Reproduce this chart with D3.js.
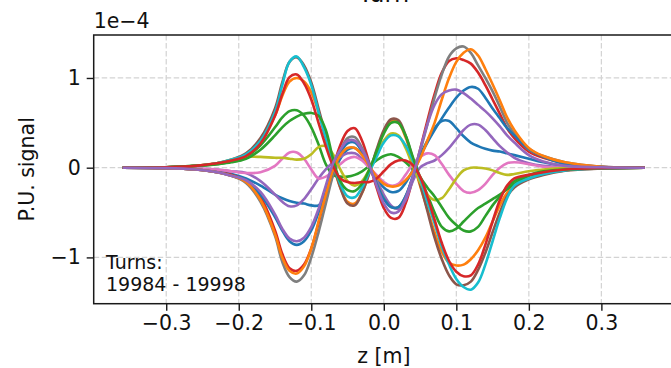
<!DOCTYPE html>
<html>
<head>
<meta charset="utf-8">
<script src="https://cdn.jsdelivr.net/npm/d3@7"></script>
<style>
  html, body { margin: 0; padding: 0; background: #fff; }
  svg { display: block; font-family: "DejaVu Sans", sans-serif; }
</style>
</head>
<body>
<svg id="chart" width="671" height="368"></svg>
<script>
// ---- data (z in metres, signal in units of 1e-4) ----
const zGrid = [-0.36,-0.30,-0.26,-0.23,-0.21,-0.19,-0.17,-0.15,-0.14,-0.13,-0.12,-0.11,-0.10,-0.09,-0.08,-0.07,-0.06,-0.05,-0.04,-0.03,-0.02,-0.01,0.00,0.01,0.02,0.03,0.04,0.05,0.06,0.07,0.08,0.09,0.10,0.11,0.12,0.13,0.14,0.15,0.16,0.17,0.18,0.20,0.22,0.25,0.30,0.36];

const turn19984 = [0,-0.005,-0.015,-0.04,-0.07,-0.12,-0.2,-0.3,-0.34,-0.37,-0.39,-0.4,-0.42,-0.42,-0.3,-0.08,0.1,0.2,0.22,0.15,0.02,-0.12,-0.22,-0.27,-0.26,-0.17,-0.03,0.14,0.3,0.44,0.52,0.52,0.44,0.35,0.28,0.24,0.21,0.19,0.18,0.16,0.14,0.1,0.06,0.02,0.005,0];
const turn19985 = [0,0.005,0.02,0.05,0.08,0.14,0.3,0.58,0.8,0.96,1.0,0.96,0.84,0.62,0.34,0.04,-0.22,-0.38,-0.4,-0.28,-0.06,0.18,0.4,0.52,0.5,0.34,0.08,-0.2,-0.46,-0.72,-0.94,-1.06,-1.09,-1.08,-1.02,-0.92,-0.78,-0.6,-0.42,-0.28,-0.2,-0.12,-0.07,-0.03,-0.01,0];
const turn19986 = [0,0.005,0.02,0.04,0.07,0.12,0.25,0.45,0.56,0.63,0.64,0.58,0.45,0.26,0.04,-0.08,-0.1,-0.1,-0.08,-0.04,0.02,0.08,0.13,0.15,0.12,0.06,-0.02,-0.12,-0.3,-0.5,-0.66,-0.71,-0.68,-0.6,-0.52,-0.45,-0.4,-0.35,-0.3,-0.24,-0.18,-0.09,-0.05,-0.02,-0.005,0];
const turn19987 = [0,-0.005,-0.02,-0.05,-0.08,-0.15,-0.33,-0.7,-0.96,-1.12,-1.15,-1.08,-0.9,-0.62,-0.3,0.0,0.25,0.41,0.44,0.3,0.05,-0.22,-0.45,-0.56,-0.56,-0.4,-0.12,0.2,0.52,0.82,1.06,1.19,1.22,1.2,1.16,1.06,0.92,0.76,0.6,0.44,0.33,0.18,0.11,0.05,0.01,0];
const turn19988 = [0,0,-0.01,-0.02,-0.04,-0.06,-0.15,-0.3,-0.38,-0.43,-0.42,-0.35,-0.24,-0.12,-0.02,0.06,0.12,0.16,0.16,0.1,0.0,-0.14,-0.3,-0.42,-0.46,-0.36,-0.15,0.0,0.05,0.08,0.14,0.22,0.32,0.42,0.48,0.48,0.42,0.33,0.24,0.17,0.11,0.05,0.02,0.005,0,0];
const turn19989 = [0,0.005,0.02,0.05,0.09,0.16,0.33,0.66,0.95,1.18,1.23,1.14,0.95,0.66,0.36,0.06,-0.22,-0.4,-0.42,-0.28,-0.06,0.2,0.42,0.54,0.53,0.36,0.1,-0.18,-0.48,-0.78,-1.02,-1.2,-1.3,-1.31,-1.27,-1.14,-0.95,-0.72,-0.5,-0.32,-0.22,-0.13,-0.08,-0.035,-0.01,0];
const turn19990 = [0,0,-0.01,-0.02,-0.04,-0.06,-0.05,0.02,0.1,0.17,0.17,0.1,-0.02,-0.12,-0.1,-0.04,0.04,0.1,0.12,0.08,0.0,-0.08,-0.16,-0.2,-0.18,-0.08,0.04,0.12,0.16,0.14,0.04,-0.08,-0.18,-0.26,-0.28,-0.25,-0.18,-0.08,0.0,0.05,0.06,0.04,0.01,0,0,0];
const turn19991 = [0,-0.005,-0.02,-0.05,-0.09,-0.17,-0.38,-0.76,-1.05,-1.22,-1.27,-1.2,-1.0,-0.72,-0.4,-0.08,0.18,0.33,0.34,0.22,0.04,-0.16,-0.34,-0.44,-0.44,-0.32,-0.1,0.18,0.48,0.78,1.04,1.24,1.33,1.35,1.28,1.14,1.0,0.85,0.68,0.5,0.38,0.2,0.13,0.06,0.01,0];
const turn19992 = [0,0.005,0.02,0.05,0.09,0.12,0.12,0.11,0.11,0.1,0.09,0.1,0.15,0.23,0.24,0.15,-0.02,-0.15,-0.2,-0.15,-0.02,0.15,0.3,0.38,0.36,0.22,0.02,-0.16,-0.3,-0.36,-0.34,-0.24,-0.12,-0.03,0.0,0.0,-0.01,-0.03,-0.06,-0.08,-0.07,-0.04,-0.02,-0.005,0,0];
const turn19993 = [0,0.005,0.02,0.05,0.09,0.15,0.3,0.62,0.92,1.18,1.24,1.12,0.92,0.62,0.32,0.05,-0.18,-0.32,-0.33,-0.22,-0.05,0.12,0.28,0.36,0.35,0.25,0.08,-0.12,-0.38,-0.62,-0.88,-1.08,-1.24,-1.33,-1.36,-1.28,-1.08,-0.82,-0.56,-0.34,-0.2,-0.12,-0.07,-0.03,-0.01,0];
const turn19994 = [0,-0.005,-0.02,-0.05,-0.09,-0.15,-0.3,-0.55,-0.7,-0.82,-0.86,-0.82,-0.7,-0.5,-0.26,-0.04,0.16,0.27,0.28,0.18,0.02,-0.18,-0.35,-0.44,-0.44,-0.32,-0.1,0.12,0.28,0.42,0.55,0.67,0.78,0.86,0.9,0.88,0.78,0.66,0.55,0.44,0.36,0.21,0.12,0.04,0.01,0];
const turn19995 = [0,-0.005,-0.02,-0.05,-0.09,-0.16,-0.36,-0.74,-1.0,-1.15,-1.18,-1.1,-0.9,-0.6,-0.3,-0.03,0.14,0.22,0.22,0.14,0.02,-0.1,-0.18,-0.21,-0.2,-0.14,-0.04,0.1,0.3,0.5,0.76,1.0,1.18,1.28,1.32,1.25,1.1,0.93,0.75,0.56,0.42,0.22,0.13,0.06,0.01,0];
const turn19996 = [0,0.005,0.02,0.04,0.06,0.1,0.2,0.36,0.45,0.52,0.57,0.6,0.61,0.58,0.42,0.1,-0.15,-0.25,-0.26,-0.18,-0.02,0.18,0.38,0.5,0.5,0.36,0.12,-0.1,-0.22,-0.32,-0.44,-0.56,-0.64,-0.7,-0.71,-0.66,-0.54,-0.42,-0.32,-0.22,-0.15,-0.08,-0.04,-0.02,-0.005,0];
const turn19997 = [0,0.005,0.02,0.05,0.08,0.13,0.27,0.58,0.82,1.01,1.04,0.94,0.76,0.5,0.24,0.02,-0.12,-0.16,-0.17,-0.16,-0.16,-0.12,-0.04,0.04,0.08,0.08,0.03,-0.1,-0.32,-0.58,-0.84,-1.04,-1.16,-1.21,-1.2,-1.08,-0.86,-0.6,-0.36,-0.2,-0.12,-0.08,-0.05,-0.02,-0.005,0];
const turn19998 = [0,-0.005,-0.02,-0.05,-0.09,-0.14,-0.27,-0.52,-0.68,-0.79,-0.82,-0.78,-0.66,-0.46,-0.2,0.05,0.2,0.3,0.3,0.2,0.03,-0.2,-0.4,-0.5,-0.49,-0.34,-0.1,0.2,0.48,0.7,0.82,0.86,0.87,0.83,0.77,0.7,0.63,0.55,0.46,0.36,0.28,0.14,0.07,0.02,0.005,0];

const turns = [turn19984, turn19985, turn19986, turn19987, turn19988, turn19989, turn19990,
               turn19991, turn19992, turn19993, turn19994, turn19995, turn19996, turn19997, turn19998];
const colors = ["#1f77b4","#ff7f0e","#2ca02c","#d62728","#9467bd","#8c564b","#e377c2","#7f7f7f","#bcbd22","#17becf"];

const xTicks = [-0.3,-0.2,-0.1,0.0,0.1,0.2,0.3];
const yTicks = [-1, 0, 1];
const titleText = "Turn";
const xLabel = "z [m]";
const yLabel = "P.U. signal";
const offsetText = "1e\u22124";
const noteLines = ["Turns:", "19984 - 19998"];

// ---- layout ----
const svg = d3.select("#chart");
const L = 93.7, R = 673.9, T = 35, B = 303.7;
const x = d3.scaleLinear().domain([-0.4, 0.4]).range([L, R]);
const y = d3.scaleLinear().domain([-1.516, 1.479]).range([B, T]);
const fmtX = d => (d < 0 ? "\u2212" : "") + Math.abs(d).toFixed(1);
const fmtY = d => (d < 0 ? "\u2212" : "") + Math.abs(d);

svg.append("defs").append("clipPath").attr("id", "clip")
  .append("rect").attr("x", L).attr("y", T).attr("width", R - L).attr("height", B - T);

// grid
const grid = svg.append("g");
grid.selectAll(".gx").data(xTicks).enter().append("line")
  .attr("x1", d => x(d)).attr("x2", d => x(d)).attr("y1", T).attr("y2", B)
  .attr("stroke", "#d3d3d3").attr("stroke-width", 1.2).attr("stroke-dasharray", "5.5,2.5");
grid.selectAll(".gy").data(yTicks).enter().append("line")
  .attr("y1", d => y(d)).attr("y2", d => y(d)).attr("x1", L).attr("x2", R)
  .attr("stroke", "#d3d3d3").attr("stroke-width", 1.2).attr("stroke-dasharray", "5.5,2.5");

// lines
const line = d3.line()
  .x((d, i) => x(zGrid[i]))
  .y(d => y(d))
  .curve(d3.curveCatmullRom.alpha(0.5));
const lg = svg.append("g").attr("clip-path", "url(#clip)");
turns.forEach((s, i) => {
  lg.append("path").datum(s)
    .attr("d", line)
    .attr("fill", "none")
    .attr("stroke", colors[i % colors.length])
    .attr("stroke-width", 2.6)
    .attr("stroke-linejoin", "round")
    .attr("stroke-linecap", "butt");
});

// axes
const xAxis = d3.axisBottom(x).tickValues(xTicks).tickFormat(fmtX).tickSize(7).tickPadding(5);
const yAxis = d3.axisLeft(y).tickValues(yTicks).tickFormat(fmtY).tickSize(7).tickPadding(6);
const gx = svg.append("g").attr("transform", `translate(0,${B})`).call(xAxis);
const gy = svg.append("g").attr("transform", `translate(${L},0)`).call(yAxis);
[gx, gy].forEach(g => {
  g.select(".domain").remove();
  g.selectAll(".tick line").attr("stroke", "#1a1a1a").attr("stroke-width", 1.4);
  g.selectAll(".tick text").attr("fill", "#111").attr("font-size", 20.5).attr("font-family", "DejaVu Sans");
});

// frame
svg.append("rect").attr("x", L).attr("y", T).attr("width", R - L).attr("height", B - T)
  .attr("fill", "none").attr("stroke", "#1a1a1a").attr("stroke-width", 1.5);

// texts
svg.append("text").attr("x", (L + R) / 2).attr("y", 2).attr("text-anchor", "middle")
  .attr("font-size", 24).attr("fill", "#111").text(titleText);
svg.append("text").attr("x", L).attr("y", 28).attr("font-size", 20.5).attr("fill", "#111").text(offsetText);
svg.append("text").attr("x", (L + R) / 2).attr("y", 363).attr("text-anchor", "middle")
  .attr("font-size", 20.5).attr("fill", "#111").text(xLabel);
svg.append("text").attr("transform", `translate(34,${(T + B) / 2}) rotate(-90)`)
  .attr("text-anchor", "middle").attr("font-size", 20.5).attr("fill", "#111").text(yLabel);
const note = svg.append("text").attr("font-size", 19).attr("fill", "#111");
noteLines.forEach((t, i) => {
  note.append("tspan").attr("x", 106).attr("y", 269 + i * 21.7).text(t);
});
</script>
</body>
</html>
